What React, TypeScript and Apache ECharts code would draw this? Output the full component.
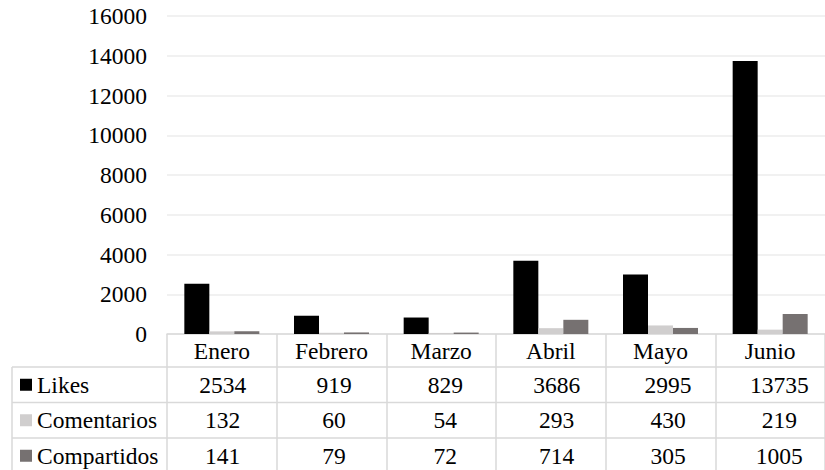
import React, { useEffect, useRef } from "react";
import * as echarts from "echarts";

const months = ["Enero", "Febrero", "Marzo", "Abril", "Mayo", "Junio"];
const seriesNames = ["Likes", "Comentarios", "Compartidos"];
const likes = [2534, 919, 829, 3686, 2995, 13735];
const comentarios = [132, 60, 54, 293, 430, 219];
const compartidos = [141, 79, 72, 714, 305, 1005];
const colors = ["#000000", "#d0cece", "#767171"];

const FONT = "Times New Roman, Liberation Serif, DejaVu Serif, serif";
const FS = 23.5;
const GRID_LEFT = 167;
const GRID_TOP = 16;
const GRID_W = 668;
const GRID_H = 318;
const TABLE_LEFT = 12;
const HEADER_BOTTOM = 367;
const ROW_H = 35.5;
const LINE_COLOR = "#d9d9d9";

export default function App() {
  const ref = useRef<HTMLDivElement>(null);
  useEffect(() => {
    if (!ref.current) return;
    const chart = echarts.init(ref.current, null, { renderer: "svg" });
    const values = [likes, comentarios, compartidos];
    const colW = GRID_W / months.length;
    const axisY = GRID_TOP + GRID_H;
    const graphics: any[] = [];
    for (let r = 0; r < 3; r++) {
      const y = HEADER_BOTTOM + r * ROW_H;
      graphics.push({
        type: "line",
        shape: { x1: TABLE_LEFT, y1: y, x2: GRID_LEFT + GRID_W, y2: y },
        style: { stroke: LINE_COLOR, lineWidth: 1.5 },
        silent: true,
      });
    }
    graphics.push({
      type: "line",
      shape: { x1: TABLE_LEFT, y1: HEADER_BOTTOM, x2: TABLE_LEFT, y2: 470 },
      style: { stroke: LINE_COLOR, lineWidth: 1.5 },
      silent: true,
    });
    seriesNames.forEach((name, r) => {
      const cy = HEADER_BOTTOM + r * ROW_H + ROW_H / 2;
      graphics.push({
        type: "rect",
        shape: { x: 20, y: cy - 6, width: 12, height: 12 },
        style: { fill: colors[r] },
        silent: true,
      });
      graphics.push({
        type: "text",
        x: 37,
        y: cy,
        style: {
          text: name,
          fontFamily: FONT,
          fontSize: FS,
          fill: "#000",
          align: "left",
          verticalAlign: "middle",
        },
        silent: true,
      });
      values[r].forEach((v, c) => {
        graphics.push({
          type: "text",
          x: GRID_LEFT + colW * (c + 0.5),
          y: cy,
          style: {
            text: String(v),
            fontFamily: FONT,
            fontSize: FS,
            fill: "#000",
            align: "center",
            verticalAlign: "middle",
          },
          silent: true,
        });
      });
    });

    chart.setOption({
      animation: false,
      textStyle: { fontFamily: FONT },
      grid: { left: GRID_LEFT, top: GRID_TOP, width: GRID_W, height: GRID_H, containLabel: false },
      xAxis: {
        type: "category",
        data: months,
        axisLine: { show: true, lineStyle: { color: LINE_COLOR, width: 1.5 } },
        axisTick: {
          show: true,
          alignWithLabel: false,
          interval: 0,
          length: 470 - axisY,
          lineStyle: { color: LINE_COLOR, width: 1.5 },
        },
        axisLabel: {
          interval: 0,
          margin: 17,
          verticalAlign: "middle",
          fontFamily: FONT,
          fontSize: FS,
          color: "#000",
        },
      },
      yAxis: {
        type: "value",
        min: 0,
        max: 16000,
        interval: 2000,
        axisLine: { show: false },
        axisTick: { show: false },
        axisLabel: {
          margin: 20,
          fontFamily: FONT,
          fontSize: FS,
          color: "#000",
          formatter: (v: number) => String(v),
        },
        splitLine: { lineStyle: { color: "#ececec", width: 1.5 } },
      },
      series: seriesNames.map((name, i) => ({
        name,
        type: "bar",
        data: values[i],
        barWidth: 25,
        barGap: "0%",
        itemStyle: { color: colors[i] },
      })),
      graphic: graphics,
    });
    return () => chart.dispose();
  }, []);
  return (
    <div
      ref={ref}
      style={{ position: "fixed", left: 0, top: 0, width: 825, height: 470, background: "#fff" }}
    />
  );
}
